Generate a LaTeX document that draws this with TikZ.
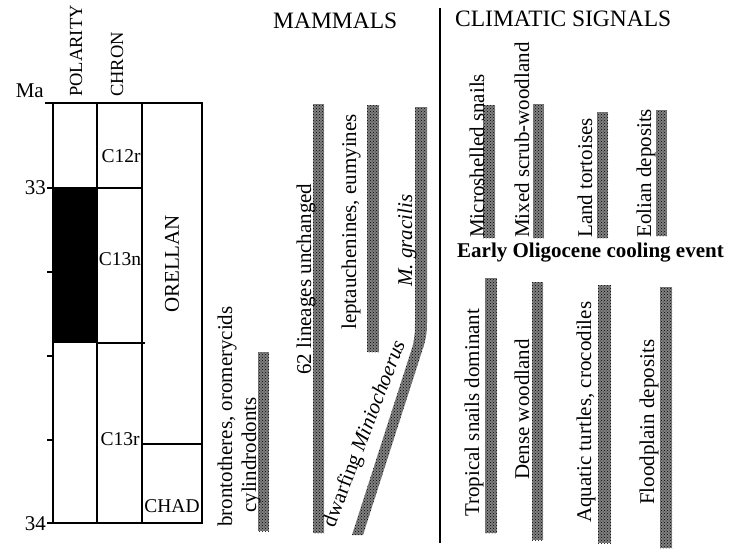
\documentclass[tikz,border=0pt]{standalone}
\usepackage{fontspec}
\setmainfont{Liberation Serif}
\usetikzlibrary{patterns}
\begin{document}
\begin{tikzpicture}[x=1pt,y=-1pt,
  lab/.style={font=\fontsize{21}{24}\selectfont, inner sep=0pt},
  vlab/.style={lab, rotate=90, anchor=base west},
  head/.style={font=\fontsize{23.5}{26}\selectfont, inner sep=0pt, anchor=base west},
  colhead/.style={font=\fontsize{18.5}{20}\selectfont, inner sep=0pt, rotate=90, anchor=base west},
  chron/.style={font=\fontsize{19.5}{22}\selectfont, inner sep=0pt, anchor=base},
  stip/.style={fill=black!50, postaction={pattern=crosshatch dots, pattern color=black}},
  frame/.style={line width=1.2pt}]
\useasboundingbox (0,0) rectangle (730,551);

% ---- time column ----
\fill[black] (53,188) rectangle (97,343);
\draw[frame] (53,103) rectangle (202,523);
\draw[frame] (97,103) -- (97,523);
\draw[frame] (142,103) -- (142,523);
\draw[frame] (53,188) -- (142,188);
\draw[frame] (97,343) -- (145,343);
\draw[frame] (142,444) -- (202,444);
\draw[frame] (45,103) -- (53,103);
\foreach \yy in {188,272,356,440,523} \draw[frame] (47,\yy) -- (53,\yy);

\node[lab, anchor=base east] (ma) at (44,97) {Ma};
\node[lab, anchor=east] (t33) at (46,188) {33};
\node[lab, anchor=east] (t34) at (46,524) {34};
\node[colhead] (polarity) at (82,97) {POLARITY};
\node[colhead] (chronh) at (123,97) {CHRON};
\node[chron] (c12r) at (121,162) {C12r};
\node[chron] (c13n) at (120,265) {C13n};
\node[chron] (c13r) at (120,445) {C13r};
\node[chron] (chad) at (172,512) {CHAD};
\node[lab, rotate=90] (orellan) at (172,264) {ORELLAN};

% ---- headings and divider ----
\node[head] (mammals) at (273,29) {MAMMALS};
\node[head] (climatic) at (455,27) {CLIMATIC SIGNALS};
\draw[line width=1.3pt] (440,8) -- (440,543);

% ---- mammal bars ----
\path[stip] (258,352) rectangle (269,531);
\path[stip] (313,104) rectangle (324,533);
\path[stip] (367,105) rectangle (379,352);
\path[stip] (415,107) -- (427,107) -- (427,318)
  .. controls (427,333) .. (424,345) -- (363,535) -- (352,535)
  -- (413,345) .. controls (415,333) .. (415,318) -- cycle;

\node[vlab] (bronto) at (232,527) {brontotheres, oromerycids};
\node[vlab] (cylin) at (256,513) {cylindrodonts};
\node[vlab] (lineages) at (311,375) {62 lineages unchanged};
\node[vlab] (lepta) at (356,330) {leptauchenines, eumyines};
\node[vlab] (gracilis) at (412,287) {\textit{M. gracilis}};
\node[lab, rotate=69] (dwarf) at (365,434) {dwarfing \textit{Miniochoerus}};

% ---- climatic bars ----
\path[stip] (483,105) rectangle (495,238);
\path[stip] (533,104) rectangle (544,238);
\path[stip] (597,112) rectangle (608,238);
\path[stip] (656,110) rectangle (667,236);
\path[stip] (485,278) rectangle (497,533);
\path[stip] (532,282) rectangle (543,540);
\path[stip] (598,285) rectangle (611,543);
\path[stip] (660,287) rectangle (672,548);

\node[vlab] (micro) at (484,238) {Microshelled snails};
\node[vlab] (mixed) at (529,238) {Mixed scrub-woodland};
\node[vlab] (land) at (592,238) {Land tortoises};
\node[vlab] (eolian) at (651,238) {Eolian deposits};
\node[lab, anchor=base west, font=\fontsize{21}{24}\selectfont\bfseries] (event) at (457,257) {Early Oligocene cooling event};
\node[vlab] (tropical) at (479,517) {Tropical snails dominant};
\node[vlab] (dense) at (529,480) {Dense woodland};
\node[vlab] (aquatic) at (591,523) {Aquatic turtles, crocodiles};
\node[vlab] (flood) at (654,505) {Floodplain deposits};
\end{tikzpicture}
\end{document}
